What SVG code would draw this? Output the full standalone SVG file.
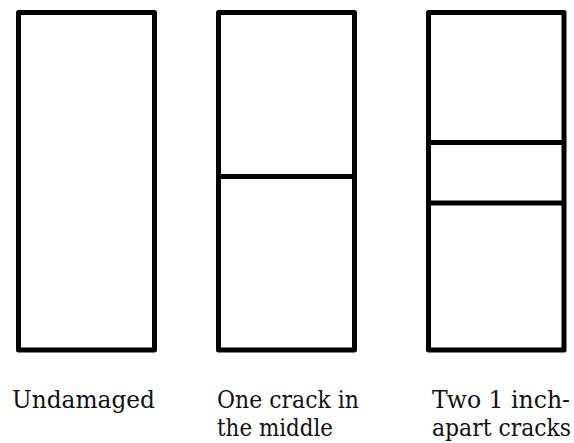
<svg xmlns="http://www.w3.org/2000/svg" width="574" height="443" viewBox="0 0 574 443">
<style>
.box{fill:#fff;stroke:#000;stroke-width:5;stroke-linejoin:round}
.crack{stroke:#000;stroke-width:5}
.lbl{font-family:"DejaVu Serif","Liberation Serif",serif;font-size:23.5px;fill:#111}
</style>
<rect width="574" height="443" fill="#fff"/>
<g id="undamaged">
<rect class="box" x="18.5" y="12.5" width="136" height="337.5"/>
<text class="lbl" x="12" y="408" textLength="143" lengthAdjust="spacingAndGlyphs">Undamaged</text>
</g>
<g id="one-crack">
<rect class="box" x="218.5" y="12.5" width="136" height="337.5"/>
<line class="crack" x1="218.5" y1="176.5" x2="354.5" y2="176.5"/>
<text class="lbl" x="217" y="408" textLength="142" lengthAdjust="spacingAndGlyphs">One crack in</text>
<text class="lbl" x="217" y="436" textLength="116" lengthAdjust="spacingAndGlyphs">the middle</text>
</g>
<g id="two-cracks">
<rect class="box" x="428.5" y="12.5" width="135.5" height="337.5"/>
<line class="crack" x1="428.5" y1="142.5" x2="564" y2="142.5"/>
<line class="crack" x1="428.5" y1="203" x2="564" y2="203"/>
<text class="lbl" x="432" y="408" textLength="138" lengthAdjust="spacingAndGlyphs">Two 1 inch-</text>
<text class="lbl" x="432" y="436" textLength="139" lengthAdjust="spacingAndGlyphs">apart cracks</text>
</g>
<g id="connectors"/>
</svg>
